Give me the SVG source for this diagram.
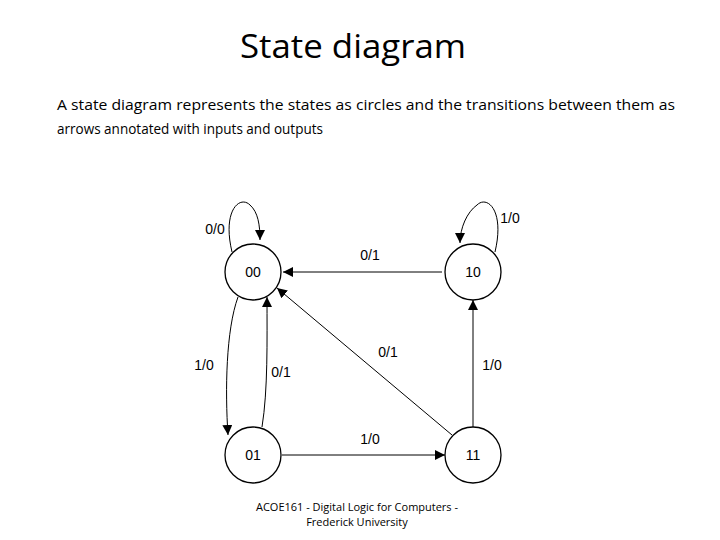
<svg xmlns="http://www.w3.org/2000/svg" width="720" height="540" viewBox="0 0 720 540">
<style>
.t{font-family:"Open Sans","Liberation Sans",sans-serif;fill:#000}
.n{fill:#fff;stroke:#000;stroke-width:1.3}
.l{font-family:"Liberation Sans",Arial,sans-serif;font-size:14px;fill:#000;text-anchor:middle}
.e{fill:none;stroke:#000;stroke-width:1;marker-end:url(#a)}
</style>
<defs><marker id="a" viewBox="0 0 10 10" refX="10" refY="5" markerWidth="10" markerHeight="10" markerUnits="userSpaceOnUse" orient="auto"><path d="M0,0L10,5L0,10z"/></marker></defs>
<rect width="720" height="540" fill="#fff"/>
<text class="t" x="353" y="58" font-size="32" text-anchor="middle" textLength="226" lengthAdjust="spacingAndGlyphs">State diagram</text>
<text class="t" x="57" y="110" font-size="15" textLength="618" lengthAdjust="spacingAndGlyphs">A state diagram represents the states as circles and the transitions between them as</text>
<text class="t" x="57" y="134" font-size="15" textLength="266" lengthAdjust="spacingAndGlyphs">arrows annotated with inputs and outputs</text>
<g id="edges">
<path class="e" d="M232,252C222,210 240,195 250,205C258,212 260,225 260,240"/>
<path class="e" d="M495,252C505,210 487,195 477,205C467,212 460,228 460,243"/>
<path class="e" d="M442,272H283"/>
<path class="e" d="M452,435L277,288"/>
<path class="e" d="M473,427V300"/>
<path class="e" d="M282,455H445"/>
<path class="e" d="M238,297C226,330 225,390 228,435"/>
<path class="e" d="M262,427C268,390 267,340 267,297"/>
</g>
<g id="n00"><circle class="n" cx="253" cy="272" r="28"/><text class="l" x="253" y="277">00</text></g>
<g id="n10"><circle class="n" cx="473" cy="272" r="28"/><text class="l" x="473" y="277">10</text></g>
<g id="n01"><circle class="n" cx="253" cy="455" r="28"/><text class="l" x="253" y="460">01</text></g>
<g id="n11"><circle class="n" cx="473" cy="455" r="28"/><text class="l" x="473" y="460">11</text></g>
<g id="labels">
<text class="l" x="215" y="234">0/0</text>
<text class="l" x="510" y="223">1/0</text>
<text class="l" x="370" y="260">0/1</text>
<text class="l" x="204" y="370">1/0</text>
<text class="l" x="281" y="377">0/1</text>
<text class="l" x="388" y="357">0/1</text>
<text class="l" x="492" y="370">1/0</text>
<text class="l" x="370" y="444">1/0</text>
</g>
<text class="t" x="357" y="511" font-size="11" text-anchor="middle" textLength="202" lengthAdjust="spacingAndGlyphs">ACOE161 - Digital Logic for Computers -</text>
<text class="t" x="357" y="526" font-size="11" text-anchor="middle">Frederick University</text>
</svg>
